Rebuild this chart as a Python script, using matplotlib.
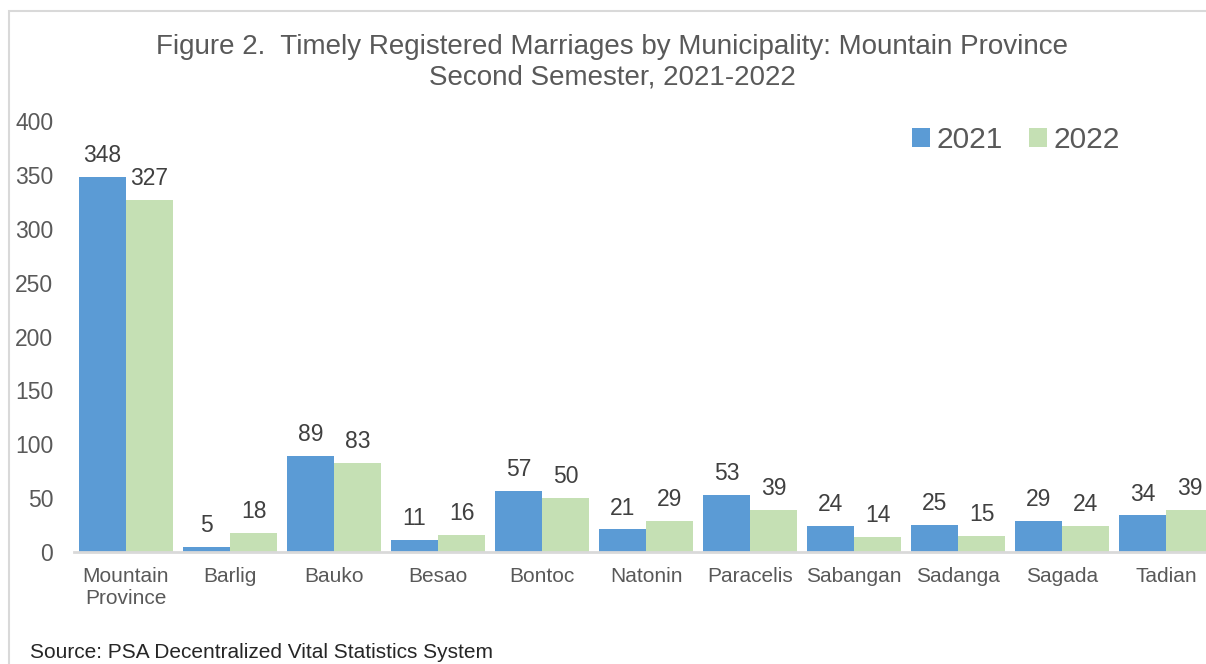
import matplotlib
matplotlib.use('Agg')
import matplotlib.pyplot as plt
from matplotlib.patches import Rectangle
import numpy as np

plt.rcParams['font.family'] = ['Liberation Sans', 'DejaVu Sans']

categories = ['Mountain\nProvince', 'Barlig', 'Bauko', 'Besao', 'Bontoc', 'Natonin',
              'Paracelis', 'Sabangan', 'Sadanga', 'Sagada', 'Tadian']
values_2021 = [348, 5, 89, 11, 57, 21, 53, 24, 25, 29, 34]
values_2022 = [327, 18, 83, 16, 50, 29, 39, 14, 15, 24, 39]

BLUE = '#5B9BD5'
GREEN = '#C5E0B4'
TEXT = '#595959'
LABEL = '#404040'

W, H = 1206, 664
fig = plt.figure(figsize=(W / 100, H / 100), dpi=100)

# chart border, partly cut off at right and bottom
fig.add_artist(Rectangle((9 / W, -0.1), 1.2, (H - 11) / H + 0.1, transform=fig.transFigure,
                         fill=False, edgecolor='#d9d9d9', linewidth=1.5))

ax = fig.add_axes([74 / W, (H - 552) / H, 1144 / W, 431 / H])
x = np.arange(len(categories))
bw = 0.452
b1 = ax.bar(x - bw / 2, values_2021, bw, color=BLUE, label='2021')
b2 = ax.bar(x + bw / 2, values_2022, bw, color=GREEN, label='2022')
ax.bar_label(b1, padding=7, fontsize=16.5, color=LABEL)
ax.bar_label(b2, padding=7, fontsize=16.5, color=LABEL)

ax.set_xlim(-0.5, len(categories) - 0.5)
ax.set_ylim(0, 400)
ax.set_yticks(range(0, 401, 50))
ax.set_xticks(x, categories)
ax.tick_params(axis='y', length=0, pad=15, labelsize=16.5, labelcolor=TEXT)
ax.tick_params(axis='x', length=0, pad=11, labelsize=15, labelcolor=TEXT)
for s in ['top', 'right', 'left']:
    ax.spines[s].set_visible(False)
ax.spines['bottom'].set_color('#d9d9d9')
ax.spines['bottom'].set_linewidth(2)

fig.text(612 / W, 1 - 47 / H, 'Figure 2.  Timely Registered Marriages by Municipality: Mountain Province',
         ha='center', va='center', fontsize=20, color=TEXT)
fig.text(612 / W, 1 - 78 / H, 'Second Semester, 2021-2022',
         ha='center', va='center', fontsize=20, color=TEXT)

leg = ax.legend(loc='center', bbox_to_anchor=(1016 / W, 1 - 140 / H), bbox_transform=fig.transFigure,
                ncol=2, frameon=False, fontsize=21.5, handlelength=0.6, handleheight=0.6,
                handletextpad=0.2, columnspacing=0.9, borderpad=0)
for t in leg.get_texts():
    t.set_color(TEXT)

fig.text(30 / W, 1 - 653 / H, 'Source: PSA Decentralized Vital Statistics System',
         ha='left', va='center', fontsize=15, color='#262626')

fig.savefig('out.png', dpi=100)
